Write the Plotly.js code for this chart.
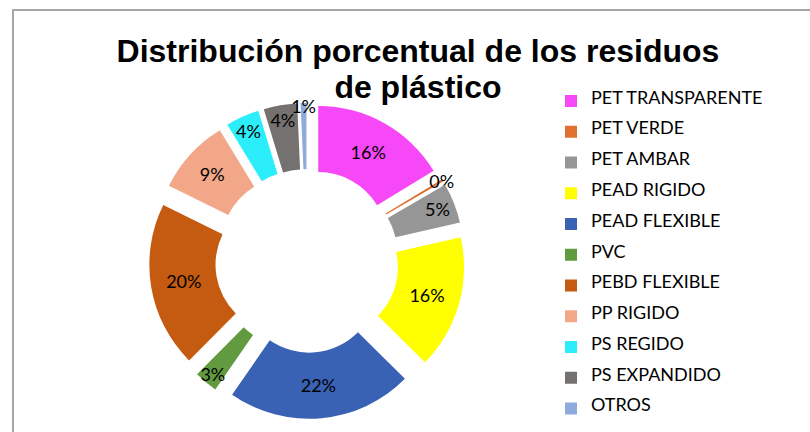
<!DOCTYPE html>
<html>
<head>
<meta charset="utf-8">
<script src="https://cdn.plot.ly/plotly-3.0.1.min.js"></script>
<style>
  html, body { margin: 0; padding: 0; background: #fff; }
  #wrap { position: relative; width: 810px; height: 432px; overflow: hidden; }
  #chart { position: absolute; left: 0; top: 0; width: 810px; height: 432px; }
  #frame { position: absolute; left: 12px; top: 9px; width: 820px; height: 440px;
           border-left: 2px solid #a6a6a6; border-top: 2px solid #a6a6a6; pointer-events: none; }
</style>
</head>
<body>
<div id="wrap">
  <div id="chart"></div>
  <div id="frame"></div>
</div>
<script>
const categories = ["PET TRANSPARENTE", "PET VERDE", "PET AMBAR", "PEAD RIGIDO", "PEAD FLEXIBLE",
                    "PVC", "PEBD FLEXIBLE", "PP RIGIDO", "PS REGIDO", "PS EXPANDIDO", "OTROS"];
const values = [16.3, 0.3, 4.8, 16.0, 22.2, 2.8, 19.8, 9.0, 4.0, 4.0, 0.7];
const colors = ["#F748F7", "#E07030", "#969696", "#FFFF00", "#3A62B4",
                "#629B3F", "#C55A11", "#F2A888", "#2CEEFB", "#767171", "#8FAADC"];
const titleLines = ["Distribución porcentual de los residuos", "de plástico"];

// legend names: padded with blank lines to reproduce the wide row spacing
const legendLabels = categories.map(c => ' <br><span style="font-size:18px">' + c + '</span><br> ');
// title: big glyphs with a tighter line pitch
const titleText = titleLines.map(t => '<span style="font-size:32px">' + t + '</span>').join('<br>');

const trace = {
  type: 'pie',
  labels: legendLabels,
  values: values,
  sort: false,
  direction: 'clockwise',
  rotation: 0,
  hole: 0.51,
  pull: categories.map(() => 0.17),
  marker: { colors: colors, line: { width: 0 } },
  textinfo: 'percent',
  texttemplate: '%{percent:.0%}',
  textposition: 'inside',
  insidetextorientation: 'horizontal',
  insidetextfont: { family: 'Lato, sans-serif', size: 18, color: '#000' },
  domain: { x: [0.184, 0.574], y: [0.030, 0.762] },
  hoverinfo: 'skip'
};

const layout = {
  width: 810, height: 432,
  margin: { l: 0, r: 0, t: 0, b: 0 },
  paper_bgcolor: 'rgba(0,0,0,0)',
  plot_bgcolor: 'rgba(0,0,0,0)',
  showlegend: true,
  uniformtext: { mode: 'show', minsize: 18 },
  title: {
    text: titleText,
    x: 0.516, xanchor: 'center',
    y: 0.857, yref: 'container', yanchor: 'top',
    font: { family: 'Liberation Sans, Arial, sans-serif', size: 27.7, color: '#000', weight: 700 }
  },
  legend: {
    x: 551 / 810, xanchor: 'left',
    y: 1 - 80.5 / 432, yanchor: 'top',
    font: { family: 'Lato, sans-serif', size: 7.12, color: '#000' },
    bgcolor: 'rgba(0,0,0,0)',
    traceorder: 'normal'
  }
};

Plotly.newPlot('chart', [trace], layout, { staticPlot: true, displayModeBar: false });
</script>
</body>
</html>
